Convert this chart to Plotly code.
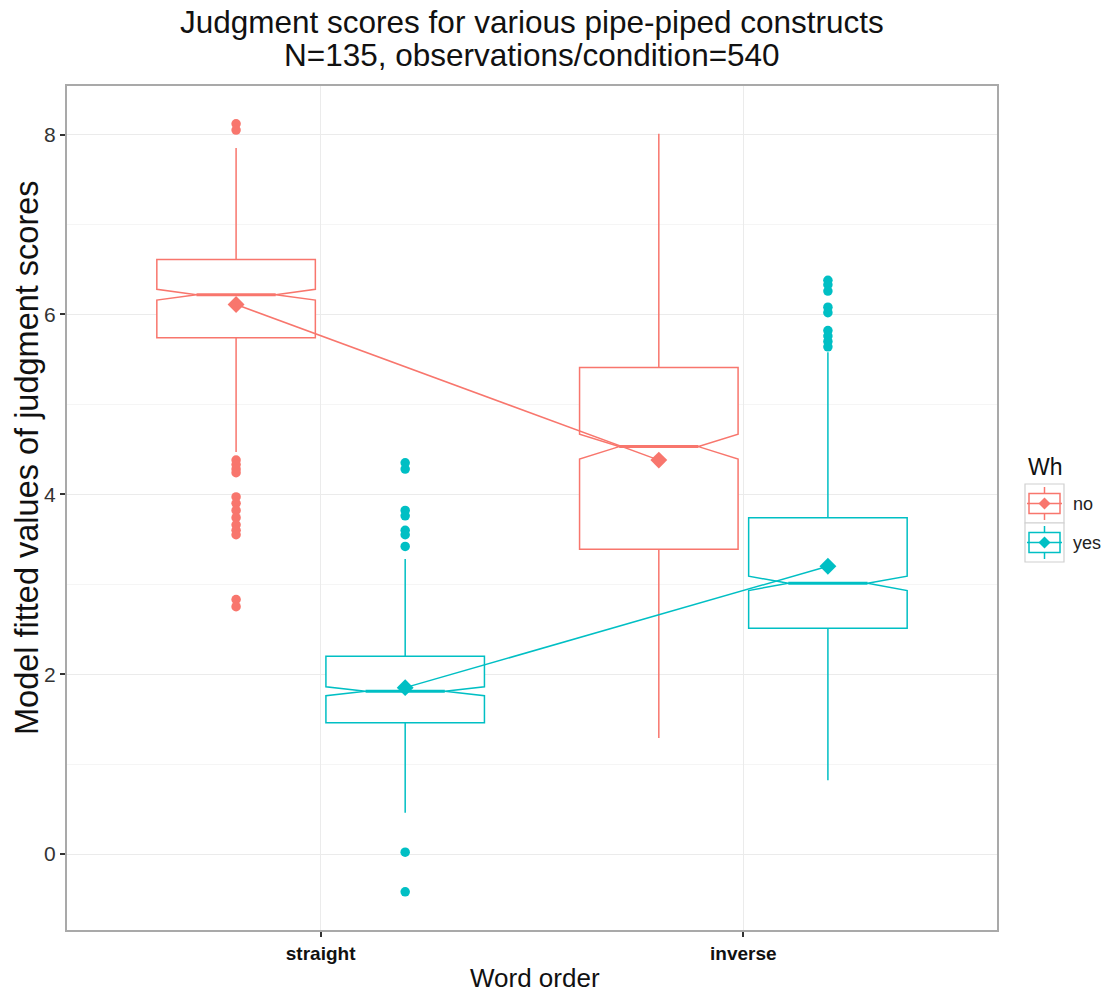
import plotly.graph_objects as go

# ---- data -------------------------------------------------------------
word_order = ["straight", "inverse"]
wh_levels = ["no", "yes"]

# five-number summaries and notch half-widths per Wh level (straight, inverse)
q1_no = [5.74, 3.39]
median_no = [6.22, 4.53]
q3_no = [6.61, 5.41]
lower_no = [4.47, 1.29]
upper_no = [7.85, 8.01]
notch_no = [0.06, 0.137]
mean_no = [6.11, 4.38]

q1_yes = [1.46, 2.51]
median_yes = [1.81, 3.01]
q3_yes = [2.20, 3.74]
lower_yes = [0.46, 0.82]
upper_yes = [3.28, 5.58]
notch_yes = [0.05, 0.08]
mean_yes = [1.85, 3.20]

# outlying observations
outliers_no_straight = [8.12, 8.05, 4.38, 4.33, 4.28, 4.24, 3.97, 3.90, 3.82,
                        3.74, 3.66, 3.60, 3.55, 2.83, 2.75]
outliers_no_inverse = []
outliers_yes_straight = [4.35, 4.28, 3.82, 3.76, 3.60, 3.55, 3.42, 0.02, -0.42]
outliers_yes_inverse = [6.38, 6.33, 6.26, 6.08, 6.02, 5.82, 5.76, 5.70, 5.64]

y_ticks = [0, 2, 4, 6, 8]

# ---- styling ----------------------------------------------------------
W, H = 1106, 997
L, R, T, B = 67, 997, 86, 930          # plot-area edges in pixels
colors = {"no": "#F8766D", "yes": "#00BFC4"}
dodge = {"no": -0.2, "yes": 0.2}
box_w = 0.375
notch_frac = 0.25                      # notch indent as a fraction of box width
FONT = "Liberation Sans, Arial, sans-serif"

stats = {
    "no": dict(q1=q1_no, med=median_no, q3=q3_no, lo=lower_no, hi=upper_no,
               notch=notch_no, mean=mean_no,
               out=[outliers_no_straight, outliers_no_inverse]),
    "yes": dict(q1=q1_yes, med=median_yes, q3=q3_yes, lo=lower_yes, hi=upper_yes,
                notch=notch_yes, mean=mean_yes,
                out=[outliers_yes_straight, outliers_yes_inverse]),
}

fig = go.Figure()

for g in wh_levels:
    s = stats[g]
    c = colors[g]
    pos = [i + 1 + dodge[g] for i in range(len(word_order))]
    # notched boxes
    fig.add_trace(go.Box(
        x=pos, q1=s["q1"], median=s["med"], q3=s["q3"],
        lowerfence=s["lo"], upperfence=s["hi"], notchspan=s["notch"],
        notched=True, notchwidth=notch_frac, width=box_w, whiskerwidth=0,
        boxpoints=False, fillcolor="white",
        line=dict(color=c, width=1.5), showlegend=False, name=g,
    ))
    # heavier median segment across the notch waist
    mx, my = [], []
    half = box_w / 2 * (1 - 2 * notch_frac)
    for p, m in zip(pos, s["med"]):
        mx += [p - half, p + half, None]
        my += [m, m, None]
    fig.add_trace(go.Scatter(
        x=mx, y=my, mode="lines", line=dict(color=c, width=3),
        showlegend=False, hoverinfo="skip",
    ))
    # outliers
    ox, oy = [], []
    for p, vals in zip(pos, s["out"]):
        ox += [p] * len(vals)
        oy += vals
    fig.add_trace(go.Scatter(
        x=ox, y=oy, mode="markers",
        marker=dict(color=c, size=9.5, line=dict(width=0)),
        showlegend=False, name=g,
    ))
    # means joined by a line
    fig.add_trace(go.Scatter(
        x=pos, y=s["mean"], mode="lines+markers",
        line=dict(color=c, width=1.5),
        marker=dict(symbol="diamond", size=13, color=c),
        showlegend=False, name=g,
    ))


def px_x(px):
    return (px - L) / (R - L)


def px_y(py):
    return (B - py) / (B - T)


shapes = []
annotations = []

# legend drawn in the right margin
annotations.append(dict(text="Wh", x=px_x(1026), y=px_y(467), xref="paper", yref="paper",
                        xanchor="left", yanchor="middle", showarrow=False,
                        font=dict(family=FONT, size=23, color="#111")))
key_top = [484, 523]
for g, kt in zip(wh_levels, key_top):
    c = colors[g]
    kb = kt + 39
    kc = (kt + kb) / 2
    xl, xr = 1025, 1064
    xc = (xl + xr) / 2
    shapes.append(dict(type="rect", xref="paper", yref="paper",
                       x0=px_x(xl), x1=px_x(xr), y0=px_y(kb), y1=px_y(kt),
                       line=dict(color="#d0d0d0", width=1.2), fillcolor="white"))
    shapes.append(dict(type="line", xref="paper", yref="paper",
                       x0=px_x(xc), x1=px_x(xc), y0=px_y(kb - 3), y1=px_y(kt + 3),
                       line=dict(color=c, width=1.5)))
    shapes.append(dict(type="rect", xref="paper", yref="paper",
                       x0=px_x(xl + 4), x1=px_x(xr - 4), y0=px_y(kc + 10), y1=px_y(kc - 10),
                       line=dict(color=c, width=1.5), fillcolor="white"))
    shapes.append(dict(type="line", xref="paper", yref="paper",
                       x0=px_x(xl + 2), x1=px_x(xr - 2), y0=px_y(kc), y1=px_y(kc),
                       line=dict(color=c, width=1.5)))
    d = 6
    shapes.append(dict(type="path", xref="paper", yref="paper",
                       path=(f"M {px_x(xc)} {px_y(kc - d)} L {px_x(xc + d)} {px_y(kc)} "
                             f"L {px_x(xc)} {px_y(kc + d)} L {px_x(xc - d)} {px_y(kc)} Z"),
                       line=dict(color=c, width=0), fillcolor=c))
    annotations.append(dict(text=g, x=px_x(1071), y=px_y(kc), xref="paper", yref="paper",
                            xanchor="left", yanchor="middle", showarrow=False,
                            font=dict(family=FONT, size=18, color="#222")))

# title lines
annotations.append(dict(text="Judgment scores for various pipe-piped constructs",
                        x=0.5, y=px_y(22), xref="paper", yref="paper",
                        xanchor="center", yanchor="middle", showarrow=False,
                        font=dict(family=FONT, size=31.5, color="#111")))
annotations.append(dict(text="N=135, observations/condition=540",
                        x=0.5, y=px_y(55), xref="paper", yref="paper",
                        xanchor="center", yanchor="middle", showarrow=False,
                        font=dict(family=FONT, size=31.5, color="#111")))
# axis titles
annotations.append(dict(text="Word order", x=px_x(535), y=px_y(978),
                        xref="paper", yref="paper", xanchor="center", yanchor="middle",
                        showarrow=False, font=dict(family=FONT, size=26, color="#111")))
annotations.append(dict(text="Model fitted values of judgment scores", x=px_x(27), y=px_y(458),
                        xref="paper", yref="paper", xanchor="center", yanchor="middle",
                        textangle=-90, showarrow=False,
                        font=dict(family=FONT, size=32.5, color="#111")))

fig.update_layout(
    width=W, height=H,
    margin=dict(l=L, r=W - R, t=T, b=H - B, pad=0),
    plot_bgcolor="white", paper_bgcolor="white",
    boxmode="overlay",
    showlegend=False,
    shapes=shapes, annotations=annotations,
    font=dict(family=FONT),
)
fig.update_xaxes(
    range=[0.4, 2.6], tickvals=[1, 2], ticktext=word_order,
    tickfont=dict(family=FONT, size=19, color="#111", weight="bold"),
    showgrid=True, gridcolor="#ebebeb", gridwidth=1, zeroline=False,
    ticks="outside", ticklen=5, tickcolor="#333", tickwidth=1.5,
    showline=True, linecolor="#a9a9a9", linewidth=2, mirror=True,
)
fig.update_yaxes(
    range=[-0.845, 8.54], tickvals=y_ticks,
    tickfont=dict(family=FONT, size=21, color="#333"),
    showgrid=True, gridcolor="#ebebeb", gridwidth=1, zeroline=False,
    minor=dict(dtick=1, showgrid=True, gridcolor="#f5f5f5", gridwidth=1),
    ticks="outside", ticklen=5, tickcolor="#333", tickwidth=1.5,
    showline=True, linecolor="#a9a9a9", linewidth=2, mirror=True,
)

fig.write_html("out.html")
